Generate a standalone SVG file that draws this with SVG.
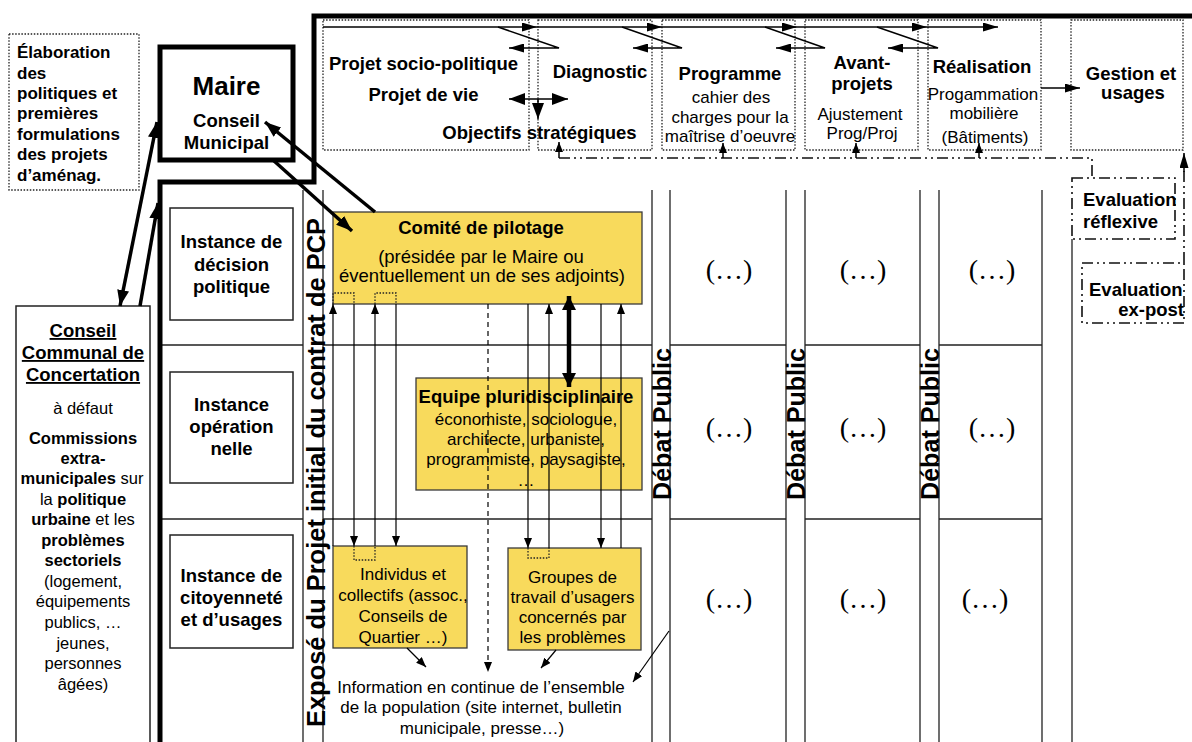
<svg xmlns="http://www.w3.org/2000/svg" width="1192" height="742" viewBox="0 0 1192 742">
<style>
text{font-family:"Liberation Sans",Arial,sans-serif;fill:#000}
.b{font-weight:bold;font-size:18.5px;text-anchor:middle}
.bl{font-weight:bold;font-size:17px}
.r{font-size:16.5px;text-anchor:middle}
.rr{font-size:17px;text-anchor:middle}
.sb{font-weight:bold}
.u{text-decoration:underline}
.el{font-family:"Liberation Serif","Times New Roman",serif;font-size:28px;text-anchor:middle}
.vt{font-weight:bold;font-size:25px;text-anchor:middle}
.g{stroke:#222;stroke-width:1.3;fill:none}
.box{fill:#fff;stroke:#222;stroke-width:1.5}
.dot{stroke:#222;stroke-width:1.3;stroke-dasharray:1.5 1.6;fill:none}
.dd{stroke:#111;stroke-width:1.6;stroke-dasharray:11 4 2 4 2 4;fill:none}
.y{fill:#F8DA5C;stroke:#3a3a3a;stroke-width:1.3}
.t{stroke:#000;stroke-width:1.2;fill:none}
.m{stroke:#000;stroke-width:1.5;fill:none}
.k{stroke:#000;stroke-width:3.5;fill:none}
</style>
<defs>
<marker id="a" markerUnits="userSpaceOnUse" markerWidth="10" markerHeight="8" refX="10" refY="4" orient="auto-start-reverse"><path d="M0,0 L10,4 L0,8 z" fill="#000"/></marker>
<marker id="am" markerUnits="userSpaceOnUse" markerWidth="15" markerHeight="9" refX="15" refY="4.5" orient="auto-start-reverse"><path d="M0,0 L15,4.5 L0,9 z" fill="#000"/></marker>
<marker id="ak" markerUnits="userSpaceOnUse" markerWidth="16" markerHeight="12" refX="16" refY="6" orient="auto-start-reverse"><path d="M0,0 L16,6 L0,12 z" fill="#000"/></marker>
<marker id="ab" markerUnits="userSpaceOnUse" markerWidth="14" markerHeight="14" refX="14" refY="7" orient="auto-start-reverse"><path d="M0,0 L14,7 L0,14 z" fill="#000"/></marker>
</defs>
<rect width="1192" height="742" fill="#fff"/>

<g id="grid">
<path class="g" d="M303,190V742M323,190V742M652,190V742M670,190V742M786,190V742M805,190V742M920,190V742M939,190V742M1042,190V742M1072,239V742"/>
<path class="g" d="M160,345H303M323,345H652M670,345H786M805,345H920M939,345H1042M160,519H303M323,519H652M670,519H786M805,519H920M939,519H1042"/>
<path d="M1192,16H314V182H160V742" fill="none" stroke="#000" stroke-width="5"/>
<text class="vt" transform="translate(325,472.5) rotate(-90)" textLength="509" lengthAdjust="spacingAndGlyphs">Exposé du Projet initial du contrat de PCP</text>
<text class="vt" transform="translate(671,424) rotate(-90)" textLength="152" lengthAdjust="spacingAndGlyphs">Débat Public</text>
<text class="vt" transform="translate(805,424) rotate(-90)" textLength="152" lengthAdjust="spacingAndGlyphs">Débat Public</text>
<text class="vt" transform="translate(939,424) rotate(-90)" textLength="152" lengthAdjust="spacingAndGlyphs">Débat Public</text>
<text class="el" x="729" y="279">(…)</text>
<text class="el" x="863" y="279">(…)</text>
<text class="el" x="992" y="279">(…)</text>
<text class="el" x="729" y="437">(…)</text>
<text class="el" x="863" y="437">(…)</text>
<text class="el" x="992" y="437">(…)</text>
<text class="el" x="729" y="608">(…)</text>
<text class="el" x="863" y="608">(…)</text>
<text class="el" x="985" y="608">(…)</text>
</g>

<g id="elaboration">
<rect class="dot" x="9" y="34" width="130" height="156"/>
<text class="bl" x="17" y="58">Élaboration</text>
<text class="bl" x="17" y="79">des</text>
<text class="bl" x="17" y="99">politiques et</text>
<text class="bl" x="17" y="119">premières</text>
<text class="bl" x="17" y="140">formulations</text>
<text class="bl" x="17" y="160">des projets</text>
<text class="bl" x="17" y="181">d’aménag.</text>
</g>

<g id="maire">
<rect x="160" y="47" width="133" height="113" fill="#fff" stroke="#000" stroke-width="5"/>
<text class="b" x="226.5" y="95" style="font-size:26px">Maire</text>
<text class="b" x="226.5" y="127">Conseil</text>
<text class="b" x="226.5" y="149">Municipal</text>
</g>

<g id="conseil-communal">
<rect class="box" x="16" y="306" width="134" height="450"/>
<text class="b u" x="83" y="337">Conseil</text>
<text class="b u" x="83" y="359">Communal de</text>
<text class="b u" x="83" y="381">Concertation</text>
<text class="r" x="83" y="414">à défaut</text>
<text class="r sb" x="83" y="444">Commissions</text>
<text class="r sb" x="83" y="464">extra-</text>
<text class="r" x="82" y="484"><tspan class="sb">municipales</tspan> sur</text>
<text class="r" x="83" y="505">la <tspan class="sb">politique</tspan></text>
<text class="r" x="83" y="525"><tspan class="sb">urbaine</tspan> et les</text>
<text class="r sb" x="83" y="546">problèmes</text>
<text class="r sb" x="83" y="566">sectoriels</text>
<text class="r" x="83" y="587">(logement,</text>
<text class="r" x="83" y="607">équipements</text>
<text class="r" x="83" y="628">publics, …</text>
<text class="r" x="83" y="649">jeunes,</text>
<text class="r" x="83" y="669">personnes</text>
<text class="r" x="83" y="690">âgées)</text>
</g>

<g id="instance-decision">
<rect class="box" x="170" y="208" width="123" height="112"/>
<text class="b" x="231.5" y="248">Instance de</text>
<text class="b" x="231.5" y="271">décision</text>
<text class="b" x="231.5" y="293">politique</text>
</g>
<g id="instance-operationnelle">
<rect class="box" x="170" y="372" width="123" height="111"/>
<text class="b" x="231.5" y="411">Instance</text>
<text class="b" x="231.5" y="433">opération</text>
<text class="b" x="231.5" y="455">nelle</text>
</g>
<g id="instance-citoyennete">
<rect class="box" x="170" y="535" width="123" height="113"/>
<text class="b" x="231.5" y="582">Instance de</text>
<text class="b" x="231.5" y="604">citoyenneté</text>
<text class="b" x="231.5" y="626">et d’usages</text>
</g>

<g id="phase-projet">
<rect class="dot" x="323" y="20" width="206" height="130"/>
<text class="b" x="423.5" y="70">Projet socio-politique</text>
<text class="b" x="423.5" y="101">Projet de vie</text>
<text class="b" x="539.5" y="139">Objectifs stratégiques</text>
</g>
<g id="phase-diagnostic">
<rect class="dot" x="538" y="20" width="114" height="130"/>
<text class="b" x="600" y="78">Diagnostic</text>
</g>
<g id="phase-programme">
<rect class="dot" x="662" y="20" width="133" height="130"/>
<text class="b" x="730" y="80">Programme</text>
<text class="rr" x="731" y="103">cahier des</text>
<text class="rr" x="730" y="123">charges pour la</text>
<text class="rr" x="730" y="142">maîtrise d’oeuvre</text>
</g>
<g id="phase-avant-projets">
<rect class="dot" x="805" y="20" width="113" height="130"/>
<text class="b" x="862" y="69">Avant-</text>
<text class="b" x="862" y="90">projets</text>
<text class="rr" x="860" y="120">Ajustement</text>
<text class="rr" x="862" y="139">Prog/Proj</text>
</g>
<g id="phase-realisation">
<rect class="dot" x="928" y="20" width="113" height="130"/>
<text class="b" x="982" y="73">Réalisation</text>
<text class="rr" x="983" y="100">Progammation</text>
<text class="rr" x="984" y="119">mobilière</text>
<text class="rr" x="985" y="143">(Bâtiments)</text>
</g>
<g id="phase-gestion">
<rect class="dot" x="1071" y="20" width="112" height="130"/>
<text class="b" x="1131" y="80">Gestion et</text>
<text class="b" x="1133" y="99">usages</text>
</g>

<g id="evaluation-reflexive">
<rect class="dd" x="1072" y="178" width="103" height="61"/>
<text class="bl" x="1083" y="206" style="font-size:18.5px">Evaluation</text>
<text class="bl" x="1083" y="228" style="font-size:18.5px">réflexive</text>
</g>
<g id="evaluation-ex-post">
<rect class="dd" x="1082" y="263" width="102" height="60"/>
<text class="bl" x="1089" y="296" style="font-size:18.5px">Evaluation</text>
<text class="bl" x="1184" y="316" style="font-size:18.5px;text-anchor:end">ex-post</text>
</g>

<g id="comite">
<rect class="y" x="333" y="212" width="309" height="92"/>
<text class="b" x="481" y="234">Comité de pilotage</text>
<text class="rr" x="481" y="263" style="font-size:18.5px">(présidée par le Maire ou</text>
<text class="rr" x="482" y="282" style="font-size:18.5px">éventuellement un de ses adjoints)</text>
</g>
<g id="equipe">
<rect class="y" x="416" y="378" width="226" height="112"/>
<text class="b" x="526" y="403">Equipe pluridisciplinaire</text>
<text class="rr" x="526" y="425">économiste, sociologue,</text>
<text class="rr" x="526" y="445">architecte, urbaniste,</text>
<text class="rr" x="526" y="465">programmiste, paysagiste,</text>
<text class="rr" x="526" y="486">…</text>
</g>
<g id="individus">
<rect class="y" x="333" y="546" width="134" height="102"/>
<text class="rr" x="403" y="580">Individus et</text>
<text class="rr" x="403" y="601">collectifs (assoc.,</text>
<text class="rr" x="403" y="622">Conseils de</text>
<text class="rr" x="403" y="643">Quartier …)</text>
</g>
<g id="groupes">
<rect class="y" x="508" y="548" width="133" height="102"/>
<text class="rr" x="572.5" y="583">Groupes de</text>
<text class="rr" x="572.5" y="603">travail d’usagers</text>
<text class="rr" x="572.5" y="623">concernés par</text>
<text class="rr" x="572.5" y="643">les problèmes</text>
</g>
<g id="information">
<text class="rr" x="481" y="693">Information en continue de l’ensemble</text>
<text class="rr" x="481" y="713">de la population (site internet, bulletin</text>
<text class="rr" x="482" y="734">municipale, presse…)</text>
</g>

<g id="connectors">
<path class="m" d="M323,27H537" marker-end="url(#am)"/>
<path class="m" d="M537,27H662" marker-end="url(#am)"/>
<path class="m" d="M662,27H797" marker-end="url(#am)"/>
<path class="m" d="M797,27H927" marker-end="url(#am)"/>
<path class="m" d="M927,27H998" marker-end="url(#am)"/>
<path class="m" d="M498,27L559,48H509" marker-end="url(#am)"/>
<path class="m" d="M622,27L682,48H633" marker-end="url(#am)"/>
<path class="m" d="M765,27L825,48H776" marker-end="url(#am)"/>
<path class="m" d="M877,27L938,48H888" marker-end="url(#am)"/>
<path class="m" d="M509,99H568" marker-start="url(#ak)" marker-end="url(#ak)"/>
<path class="m" d="M538,99V119" marker-end="url(#ak)"/>
<path class="m" d="M1041,88H1080" marker-end="url(#am)"/>
<path class="dd" d="M559,158H1092V178"/>
<path class="m" d="M559,158V142" marker-end="url(#a)"/>
<path class="m" d="M723,158V143" marker-end="url(#a)"/>
<path class="m" d="M856,158V143" marker-end="url(#a)"/>
<path class="m" d="M979,158V143" marker-end="url(#a)"/>
<path class="dd" d="M1184,263V170"/>
<path class="m" d="M1184,172V153" marker-end="url(#am)"/>
<path class="k" d="M157,122L120,306" marker-start="url(#ak)" marker-end="url(#ak)"/>
<path class="k" d="M140,306L158,203" marker-end="url(#ak)"/>
<path class="k" d="M375,212L265,122" marker-end="url(#ak)"/>
<path class="k" d="M273,160L352,231" marker-end="url(#ak)"/>
<path class="t" d="M333,546V304" marker-end="url(#a)"/>
<path class="t" d="M354,304V546" marker-end="url(#a)"/>
<path class="t" d="M375,546V304" marker-end="url(#a)"/>
<path class="t" d="M396,304V546" marker-end="url(#a)"/>
<path class="t" d="M528,304V548" marker-end="url(#a)"/>
<path class="t" d="M549,548V304" marker-end="url(#a)"/>
<path class="t" d="M601,304V548" marker-end="url(#a)"/>
<path class="t" d="M621,548V304" marker-end="url(#a)"/>
<path class="dot" d="M333,304V293H354V304M375,304V293H396V304M354,546V560H375V546M528,548V558H549V548"/>
<path d="M569,296V387" stroke="#000" stroke-width="4.5" fill="none" marker-start="url(#ab)" marker-end="url(#ab)"/>
<path class="t" d="M488,304V672" stroke-dasharray="5 4" marker-end="url(#a)"/>
<path class="t" d="M407,648L426,667" marker-end="url(#a)"/>
<path class="t" d="M556,650L541,668" marker-end="url(#a)"/>
<path class="t" d="M669,631L633,682" marker-end="url(#a)"/>
</g>
</svg>
